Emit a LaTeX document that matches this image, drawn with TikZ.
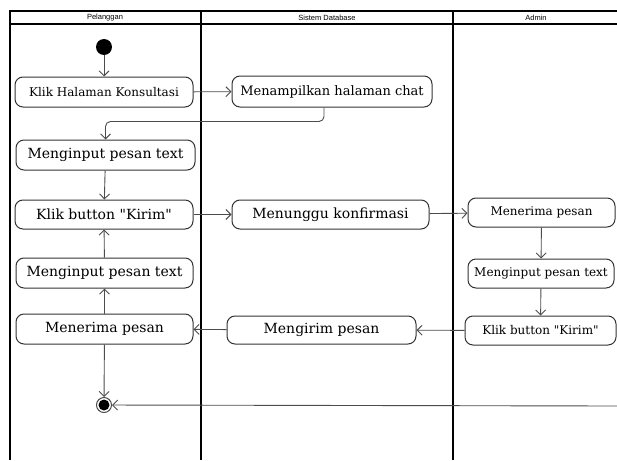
\documentclass[tikz,border=0pt]{standalone}
\usepackage{fontspec}
\setmainfont{DejaVu Serif}
\newfontfamily\lanefont{Liberation Sans}
\usetikzlibrary{arrows.meta}

\tikzset{
  lane/.style={line width=1.3pt, draw=black},
  act/.style={draw=black!80, line width=1pt, rounded corners=8pt, fill=white,
    inner sep=0pt, align=center, font=\fontsize{14}{16}\selectfont},
  actmid/.style={act, font=\fontsize{13}{15}\selectfont},
  actsmall/.style={act, font=\fontsize{12}{14}\selectfont},
  flow/.style={draw=black!70, line width=0.9pt,
    -{Straight Barb[length=5pt,width=10pt,line width=0.9pt]}},
  lanetitle/.style={font=\lanefont\fontsize{7.5}{8}\selectfont, inner sep=0pt},
}
\newcommand{\kirimlabel}{Klik button \textquotedbl Kirim\textquotedbl}

\begin{document}
\begin{tikzpicture}[x=1pt, y=-1pt]
  \useasboundingbox (0,0) rectangle (617,460);

  % swimlanes
  \draw[lane] (10,460) -- (10,11) -- (625,11);
  \draw[lane] (10,24) -- (625,24);
  \draw[lane] (201,11) -- (201,460);
  \draw[lane] (453,11) -- (453,460);
  \node[lanetitle] (lp) at (105,17.5) {Pelanggan};
  \node[lanetitle] (ls) at (327,17.5) {Sistem Database};
  \node[lanetitle] (la) at (536,17.5) {Admin};

  % start and end
  \fill[black] (104,47) circle (8);
  \node[circle, minimum size=16pt, inner sep=0pt] (start) at (104,47) {};
  \node[circle, draw=black!70, line width=1pt, minimum size=15pt, inner sep=0pt] (end) at (104,405) {};
  \fill[black] (104,405) circle (5.5);

  % activities
  \node[actsmall, minimum width=178pt, minimum height=30pt] (konsul) at (104,92) {Klik Halaman Konsultasi};
  \node[actmid, minimum width=200pt, minimum height=31pt] (chat) at (332,91.5) {Menampilkan halaman chat};
  \node[act, minimum width=179pt, minimum height=30pt] (inp1) at (105.5,155) {Menginput pesan text};
  \node[act, minimum width=178pt, minimum height=29pt] (kirim1) at (104,214.5) {\kirimlabel};
  \node[act, minimum width=197pt, minimum height=29pt] (tunggu) at (330.5,214.5) {Menunggu konfirmasi};
  \node[actsmall, minimum width=147pt, minimum height=29pt] (terima2) at (541.5,212.5) {Menerima pesan};
  \node[actsmall, minimum width=146pt, minimum height=29pt] (inp3) at (541,273.5) {Menginput pesan text};
  \node[actsmall, minimum width=151pt, minimum height=29pt] (kirim2) at (540.5,330.5) {\kirimlabel};
  \node[act, minimum width=189pt, minimum height=28pt] (kirimpesan) at (321.5,330) {Mengirim pesan};
  \node[act, minimum width=177pt, minimum height=30pt] (terima1) at (104.5,329) {Menerima pesan};
  \node[act, minimum width=177pt, minimum height=30pt] (inp2) at (104.5,273) {Menginput pesan text};

  \coordinate (rim) at (617,406);

  % flows
  \draw[flow] (start) -- (konsul);
  \draw[flow] (konsul) -- (chat);
  \draw[flow, rounded corners=5pt] ([xshift=-8pt]chat.south) -- ++(0,14) -| (inp1.north);
  \draw[flow] (inp1) -- (kirim1);
  \draw[flow] (kirim1) -- (tunggu);
  \draw[flow] (tunggu) -- (terima2);
  \draw[flow] (terima2) -- (inp3);
  \draw[flow] (inp3) -- (kirim2);
  \draw[flow] (kirim2) -- (kirimpesan);
  \draw[flow] (kirimpesan) -- (terima1);
  \draw[flow] (terima1) -- (inp2);
  \draw[flow] (inp2) -- (kirim1);
  \draw[flow] (terima1) -- (end);
  \draw[flow] (rim) -- (end);
\end{tikzpicture}
\end{document}
